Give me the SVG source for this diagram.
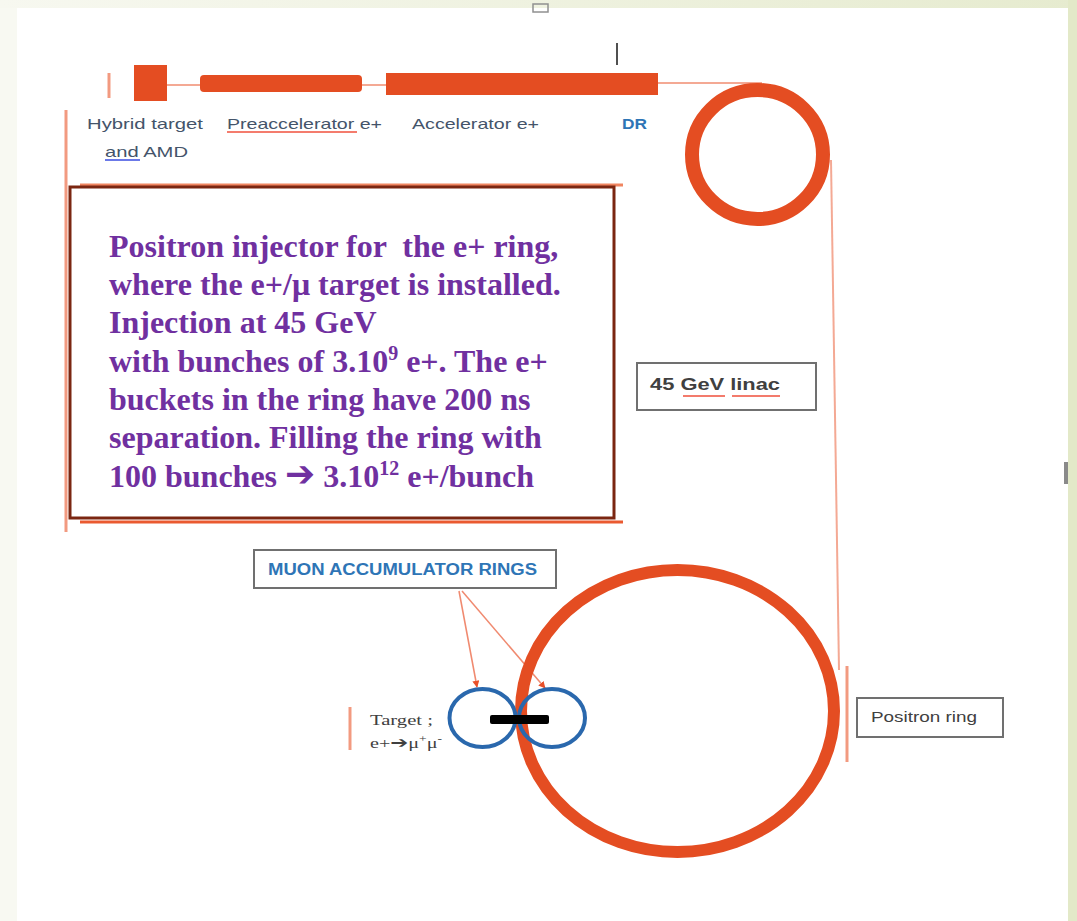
<svg xmlns="http://www.w3.org/2000/svg" width="1077" height="921" viewBox="0 0 1077 921">
  <defs>
    <linearGradient id="bgTop" x1="0" y1="0" x2="1" y2="0">
      <stop offset="0" stop-color="#f7f8f0"/>
      <stop offset="1" stop-color="#e6ebcf"/>
    </linearGradient>
    <marker id="ah" viewBox="0 0 10 10" refX="9" refY="5" markerWidth="7" markerHeight="7" orient="auto" markerUnits="userSpaceOnUse">
      <path d="M0,0 L10,5 L0,10 z" fill="#e8502a"/>
    </marker>
    <style>
      .bar { fill: #e44d22; }
      .ring { fill: none; stroke: #e44d22; }
      .thin { stroke: #f4a994; stroke-width: 2; fill: none; }
      .tick { stroke: #f29a80; stroke-width: 3; fill: none; }
      .lbl { font-family: "Liberation Sans", Arial, sans-serif; fill: #44546a; font-size: 15px; }
      .box { fill: #ffffff; stroke: #707070; stroke-width: 2; }
      .big { font-family: "Liberation Serif", "Times New Roman", serif; font-weight: bold; font-size: 32px; fill: #7030a0; }
      .mu { fill: none; stroke: #2a68ad; stroke-width: 4; }
      .squig-r { stroke: #f0503c; stroke-width: 1.5; fill: none; }
      .squig-b { stroke: #3a4de0; stroke-width: 1.5; fill: none; }
    </style>
  </defs>

  <!-- background -->
  <rect x="0" y="0" width="1077" height="921" fill="#f8f9f2"/>
  <rect x="0" y="0" width="1077" height="8" fill="url(#bgTop)"/>
  <rect x="1068" y="0" width="9" height="921" fill="#e3e9c8"/>
  <rect x="17" y="8" width="1051" height="913" fill="#ffffff"/>
  <rect x="533" y="4" width="15" height="8" fill="none" stroke="#909090" stroke-width="1.5"/>
  <rect x="1064" y="462" width="4" height="22" fill="#8a8a8a"/>

  <!-- connectors -->
  <g id="connectors">
    <line class="thin" x1="167" y1="85" x2="200" y2="85"/>
    <line class="thin" x1="362" y1="85" x2="386" y2="85"/>
    <line class="thin" x1="658" y1="83" x2="762" y2="83"/>
    <line class="thin" x1="831" y1="160" x2="839" y2="670"/>
    <line class="tick" x1="109" y1="73" x2="109" y2="98"/>
    <line class="tick" x1="66" y1="110" x2="66" y2="532"/>
    <line class="tick" x1="847" y1="666" x2="847" y2="762"/>
    <line class="tick" x1="350" y1="707" x2="350" y2="750"/>
    <line x1="617" y1="43" x2="617" y2="65" stroke="#505050" stroke-width="2"/>
    <line x1="459" y1="591" x2="477" y2="687" stroke="#f08a70" stroke-width="1.5" marker-end="url(#ah)"/>
    <line x1="462" y1="591" x2="545" y2="688" stroke="#f08a70" stroke-width="1.5" marker-end="url(#ah)"/>
  </g>

  <!-- beamline elements -->
  <g id="hybrid-target">
    <rect class="bar" x="134" y="65" width="33" height="36"/>
    <text class="lbl" x="87" y="129" textLength="116" lengthAdjust="spacingAndGlyphs">Hybrid target</text>
    <text class="lbl" x="105" y="157" textLength="83" lengthAdjust="spacingAndGlyphs">and AMD</text>
    <path class="squig-b" d="M105,160 L140,160"/>
  </g>
  <g id="preaccelerator">
    <rect class="bar" x="200" y="75" width="162" height="17" rx="4"/>
    <text class="lbl" x="227" y="129" textLength="155" lengthAdjust="spacingAndGlyphs">Preaccelerator e+</text>
    <path class="squig-r" d="M227,132 L357,132"/>
  </g>
  <g id="accelerator">
    <rect class="bar" x="386" y="73" width="272" height="22"/>
    <text class="lbl" x="412" y="129" textLength="127" lengthAdjust="spacingAndGlyphs">Accelerator e+</text>
  </g>
  <g id="dr">
    <ellipse class="ring" cx="757.5" cy="154.5" rx="65.5" ry="64.5" stroke-width="14"/>
    <text x="622" y="129" font-family="Liberation Sans, Arial, sans-serif" font-weight="bold" font-size="14" fill="#2e75b6" textLength="25" lengthAdjust="spacingAndGlyphs">DR</text>
  </g>

  <!-- description box -->
  <g id="injector-note">
    <line x1="80" y1="185" x2="623" y2="185" stroke="#f08560" stroke-width="3"/>
    <line x1="80" y1="522" x2="623" y2="522" stroke="#ea5a30" stroke-width="3"/>
    <rect x="70" y="187" width="544" height="331" fill="#ffffff" stroke="#7b2611" stroke-width="3"/>
    <text class="big" x="109" y="257" xml:space="preserve">Positron injector for  the e+ ring,</text>
    <text class="big" x="109" y="295">where the e+/μ target is installed.</text>
    <text class="big" x="109" y="333">Injection at 45 GeV</text>
    <text class="big" x="109" y="372">with bunches of 3.10<tspan font-size="20" dy="-12">9</tspan><tspan dy="12"> e+. The e+</tspan></text>
    <text class="big" x="109" y="410">buckets in the ring have 200 ns</text>
    <text class="big" x="109" y="448">separation. Filling the ring with</text>
    <text class="big" x="109" y="487">100 bunches <tspan font-family="DejaVu Sans, sans-serif" font-weight="bold" font-size="36" dy="-1">➔</tspan><tspan dy="1"> 3.10</tspan><tspan font-size="20" dy="-12">12</tspan><tspan dy="12"> e+/bunch</tspan></text>
  </g>

  <g id="linac-label">
    <rect class="box" x="637" y="363" width="179" height="47"/>
    <text x="650" y="390" font-family="Liberation Sans, Arial, sans-serif" font-weight="bold" font-size="16" fill="#404040" textLength="130" lengthAdjust="spacingAndGlyphs">45 GeV linac</text>
    <path class="squig-r" d="M683,396 L725,396 M732,396 L780,396"/>
  </g>

  <g id="muon-label">
    <rect class="box" x="254" y="550" width="302" height="38"/>
    <text x="268" y="575" font-family="Liberation Sans, Arial, sans-serif" font-weight="bold" font-size="16" fill="#2e75b6" textLength="269" lengthAdjust="spacingAndGlyphs">MUON ACCUMULATOR RINGS</text>
  </g>

  <g id="positron-ring">
    <ellipse class="ring" cx="677.5" cy="711" rx="156.5" ry="141" stroke-width="12"/>
  </g>

  <g id="muon-rings">
    <ellipse class="mu" cx="482.5" cy="718" rx="33" ry="29"/>
    <ellipse class="mu" cx="552" cy="718" rx="33" ry="29"/>
    <rect x="490" y="715" width="59" height="9" rx="2" fill="#000000"/>
  </g>

  <g id="target-label">
    <text x="370" y="725" font-family="Liberation Serif, Times New Roman, serif" font-size="15" fill="#404040" textLength="63" lengthAdjust="spacingAndGlyphs">Target ;</text>
    <text x="370" y="748" font-family="Liberation Serif, Times New Roman, serif" font-size="15" fill="#404040" textLength="72" lengthAdjust="spacingAndGlyphs">e+<tspan font-family="DejaVu Sans, sans-serif" font-weight="bold" font-size="16">➔</tspan>μ<tspan font-size="10" dy="-6">+</tspan><tspan dy="6">μ</tspan><tspan font-size="10" dy="-6">-</tspan></text>
  </g>

  <g id="positron-ring-label">
    <rect class="box" x="857" y="698" width="146" height="39"/>
    <text x="871" y="722" font-family="Liberation Sans, Arial, sans-serif" font-size="14" fill="#404040" textLength="106" lengthAdjust="spacingAndGlyphs">Positron ring</text>
  </g>
</svg>
